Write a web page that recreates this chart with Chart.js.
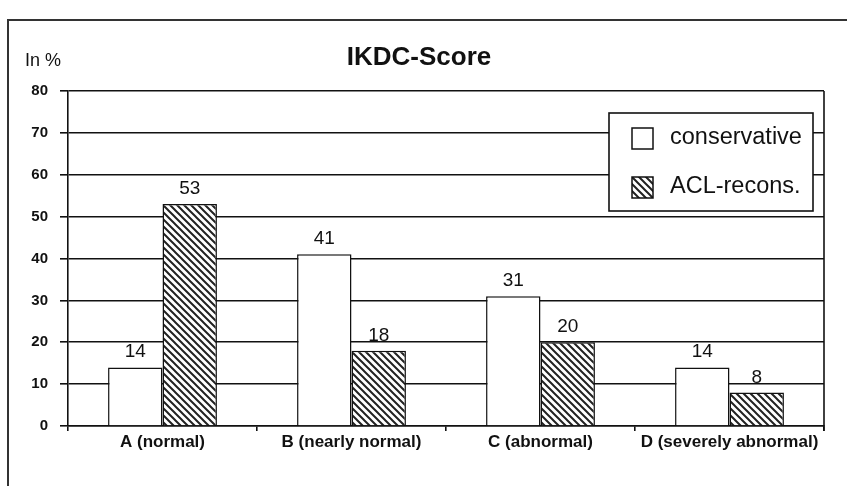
<!DOCTYPE html>
<html>
<head>
<meta charset="utf-8">
<title>IKDC-Score</title>
<script src="https://cdn.jsdelivr.net/npm/chart.js@4.4.1/dist/chart.umd.min.js"></script>
<style>
  html, body { margin: 0; padding: 0; background: #ffffff; }
  #wrap { width: 847px; height: 486px; }
</style>
</head>
<body>
<div id="wrap"><canvas id="chart" width="847" height="486"></canvas></div>
<script>
// IKDC grades and share of patients per treatment group (in %)
const categories = ['A (normal)', 'B (nearly normal)', 'C (abnormal)', 'D (severely abnormal)'];
const conservative = [14, 41, 31, 14];
const aclRecons = [53, 18, 20, 8];
const seriesNames = ['conservative', 'ACL-recons.'];
const yTicks = [0, 10, 20, 30, 40, 50, 60, 70, 80];
const chartTitle = 'IKDC-Score';
const unitLabel = 'In %';

const FONT = '"Liberation Sans", Arial, Helvetica, sans-serif';

// diagonal hatch fill for the reconstruction group
function makeHatch() {
  const s = 7;
  const c = document.createElement('canvas');
  c.width = s; c.height = s;
  const g = c.getContext('2d');
  g.fillStyle = '#ffffff';
  g.fillRect(0, 0, s, s);
  g.strokeStyle = '#222222';
  g.lineWidth = 2.0;
  g.lineCap = 'square';
  g.beginPath();
  g.moveTo(-1, -1); g.lineTo(s + 1, s + 1);
  g.moveTo(-1, s - 1); g.lineTo(1, s + 1);
  g.moveTo(s - 1, -1); g.lineTo(s + 1, 1);
  g.stroke();
  return g.createPattern(c, 'repeat');
}
const hatch = makeHatch();

// frame, title, unit label, right border, value labels and legend box
const decorations = {
  id: 'decorations',
  beforeDraw(chart) {
    const ctx = chart.ctx;
    ctx.save();
    ctx.fillStyle = '#ffffff';
    ctx.fillRect(0, 0, chart.width, chart.height);
    ctx.strokeStyle = '#333333';
    ctx.lineWidth = 2;
    ctx.beginPath();
    ctx.moveTo(8, chart.height);
    ctx.lineTo(8, 20);
    ctx.lineTo(chart.width, 20);
    ctx.stroke();

    ctx.fillStyle = '#111111';
    ctx.textBaseline = 'middle';
    ctx.textAlign = 'center';
    ctx.font = 'bold 26px ' + FONT;
    ctx.fillText(chartTitle, 419, 58);
    ctx.textAlign = 'left';
    ctx.font = '18px ' + FONT;
    ctx.fillText(unitLabel, 25, 61);
    ctx.restore();
  },
  afterDatasetsDraw(chart) {
    const ctx = chart.ctx;
    const area = chart.chartArea;
    ctx.save();
    // right border of the plot
    ctx.strokeStyle = '#111111';
    ctx.lineWidth = 1.6;
    ctx.beginPath();
    ctx.moveTo(area.right, area.top);
    ctx.lineTo(area.right, area.bottom + 5);
    ctx.stroke();

    // values above the bars
    ctx.fillStyle = '#111111';
    ctx.font = '19px ' + FONT;
    ctx.textAlign = 'center';
    ctx.textBaseline = 'alphabetic';
    chart.data.datasets.forEach((ds, i) => {
      chart.getDatasetMeta(i).data.forEach((bar, j) => {
        ctx.fillText(String(ds.data[j]), bar.x, bar.y - 10);
      });
    });

    // legend box
    const bx = 609, by = 113, bw = 204, bh = 98;
    ctx.fillStyle = '#ffffff';
    ctx.fillRect(bx, by, bw, bh);
    ctx.strokeStyle = '#111111';
    ctx.lineWidth = 1.6;
    ctx.strokeRect(bx, by, bw, bh);
    ctx.font = '23.5px ' + FONT;
    ctx.textAlign = 'left';
    ctx.textBaseline = 'middle';
    chart.data.datasets.forEach((ds, i) => {
      const cy = 138 + i * 49;
      ctx.fillStyle = ds.backgroundColor;
      ctx.fillRect(632, cy - 10, 21, 21);
      ctx.strokeStyle = '#111111';
      ctx.lineWidth = 1.5;
      ctx.strokeRect(632, cy - 10, 21, 21);
      ctx.fillStyle = '#111111';
      ctx.fillText(ds.label, 670, cy);
    });
    ctx.restore();
  }
};

new Chart(document.getElementById('chart'), {
  type: 'bar',
  data: {
    labels: categories,
    datasets: [
      {
        label: seriesNames[0],
        data: conservative,
        backgroundColor: '#ffffff',
        borderColor: '#111111',
        borderWidth: 1.5,
        categoryPercentage: 0.576,
        barPercentage: 1.0
      },
      {
        label: seriesNames[1],
        data: aclRecons,
        backgroundColor: hatch,
        borderColor: '#111111',
        borderWidth: 1.5,
        categoryPercentage: 0.576,
        barPercentage: 1.0
      }
    ]
  },
  options: {
    responsive: false,
    animation: false,
    devicePixelRatio: 1,
    layout: { padding: { top: 91, right: 23, left: 0, bottom: 0 } },
    plugins: {
      legend: { display: false },
      title: { display: false },
      tooltip: { enabled: false }
    },
    scales: {
      x: {
        afterFit(scale) { scale.height = 60; },
        grid: {
          offset: true,
          drawOnChartArea: false,
          drawTicks: true,
          tickLength: 5,
          color: '#111111',
          lineWidth: 1.6
        },
        border: { display: true, color: '#111111', width: 1.6 },
        ticks: {
          color: '#111111',
          padding: 1,
          font: { family: FONT, size: 17, weight: 'bold' },
          maxRotation: 0,
          autoSkip: false
        }
      },
      y: {
        min: 0,
        max: 80,
        afterFit(scale) { scale.width = 68; },
        afterBuildTicks(scale) { scale.ticks = yTicks.map(v => ({ value: v })); },
        grid: {
          color: '#111111',
          lineWidth: 1.6,
          drawTicks: true,
          tickLength: 8
        },
        border: { display: true, color: '#111111', width: 1.6 },
        ticks: {
          color: '#111111',
          padding: 12,
          font: { family: FONT, size: 15, weight: 'bold' }
        }
      }
    }
  },
  plugins: [decorations]
});
</script>
</body>
</html>
